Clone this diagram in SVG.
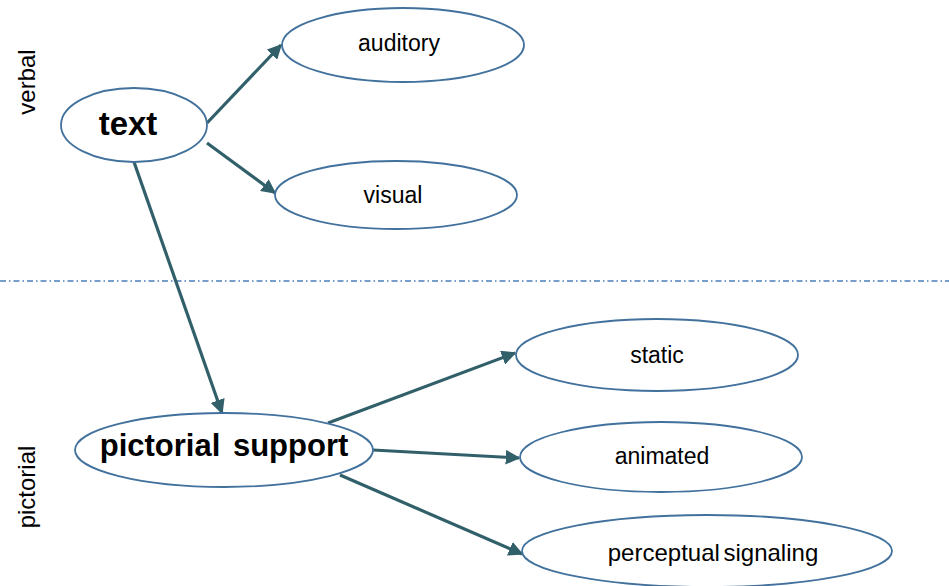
<svg xmlns="http://www.w3.org/2000/svg" width="949" height="586" viewBox="0 0 949 586">
<defs>
<marker id="ah" viewBox="0 0 10 10" refX="9" refY="5" markerWidth="4.6" markerHeight="4.6" orient="auto" markerUnits="strokeWidth">
<path d="M0,0 L10,5 L0,10 z" fill="#31606a"/>
</marker>
<style>
.n ellipse{fill:#fff;stroke:#41719c;stroke-width:1.8}
.t{font-family:"Liberation Sans",Arial,sans-serif;font-size:23px;fill:#000;text-anchor:middle;dominant-baseline:central}
.b{font-weight:bold}
.c line{stroke:#31606a;stroke-width:3.2;marker-end:url(#ah)}
.side{font-family:"Liberation Sans",Arial,sans-serif;font-size:24px;fill:#000;text-anchor:middle}
</style>
</defs>
<rect width="949" height="586" fill="#fff"/>
<line x1="0" y1="281" x2="949" y2="281" stroke="#4a7ebb" stroke-width="1.5" stroke-dasharray="6,3,1.5,3"/>
<text class="side" transform="translate(35,82) rotate(-90)">verbal</text>
<text class="side" transform="translate(35,487) rotate(-90)">pictorial</text>
<g class="c" id="connectors">
<line x1="207" y1="123" x2="281" y2="45"/>
<line x1="207" y1="143" x2="275" y2="193"/>
<line x1="134" y1="162" x2="222" y2="413"/>
<line x1="328" y1="423" x2="515" y2="353"/>
<line x1="373" y1="450" x2="519" y2="458"/>
<line x1="340" y1="475" x2="522" y2="554"/>
</g>
<g class="n" id="text"><ellipse cx="134" cy="125" rx="73" ry="37"/><text class="t b" x="128" y="123" style="font-size:33px">text</text></g>
<g class="n" id="auditory"><ellipse cx="403" cy="45" rx="121" ry="37"/><text class="t" x="399" y="43">auditory</text></g>
<g class="n" id="visual"><ellipse cx="396" cy="195" rx="121" ry="34"/><text class="t" x="393" y="195">visual</text></g>
<g class="n" id="pictorial_support"><ellipse cx="224" cy="450" rx="149" ry="37"/><text class="t b" x="224" y="445" style="font-size:31px;word-spacing:4px">pictorial support</text></g>
<g class="n" id="static"><ellipse cx="657" cy="355" rx="141" ry="36"/><text class="t" x="657" y="355">static</text></g>
<g class="n" id="animated"><ellipse cx="661" cy="457" rx="141" ry="35"/><text class="t" x="662" y="456">animated</text></g>
<g class="n" id="perceptual_signaling"><ellipse cx="707" cy="551" rx="185" ry="36"/><text class="t" x="713" y="552" style="font-size:24px;word-spacing:-3px">perceptual signaling</text></g>
</svg>
